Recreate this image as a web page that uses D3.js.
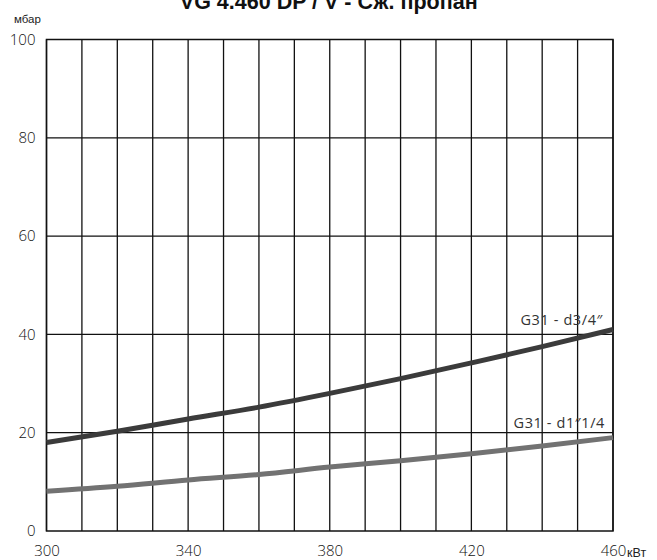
<!DOCTYPE html>
<html>
<head>
<meta charset="utf-8">
<script src="https://cdn.jsdelivr.net/npm/d3@7"></script>
<style>
  html, body { margin: 0; padding: 0; background: #fff; }
  svg { display: block; }
</style>
</head>
<body>
<svg id="chart" width="657" height="560"></svg>
<script>
// Pressure drop vs. burner output, LPG (G31), two valve sizes
const powerKW = [300, 320, 340, 360, 380, 400, 420, 440, 460];
const dropD34 = [18.0, 20.3, 22.8, 25.2, 28.0, 31.0, 34.2, 37.5, 41.0];
const dropD114 = [8.1, 9.1, 10.4, 11.5, 13.0, 14.3, 15.7, 17.3, 19.0];
const seriesNames = ["G31 - d3/4\u2033", "G31 - d1\u20331/4"];
const xTickLabels = [300, 340, 380, 420, 460];
const yTickLabels = [0, 20, 40, 60, 80, 100];
const xGrid = d3.range(300, 461, 10);
const yGrid = [20, 40, 60, 80];

const svg = d3.select("#chart");
const plotL = 46.5, plotR = 613, plotT = 39.5, plotB = 531;

const x = d3.scaleLinear().domain([300, 460]).range([plotL, plotR]);
const y = d3.scaleLinear().domain([0, 100]).range([plotB, plotT]);

// Title (sits partly above the canvas)
svg.append("text")
  .attr("x", (plotL + plotR) / 2 - 1)
  .attr("y", 9)
  .attr("text-anchor", "middle")
  .attr("font-family", "Liberation Sans, Arial, sans-serif")
  .attr("font-weight", "bold")
  .attr("font-size", 21.5)
  .attr("fill", "#111")
  .text("VG 4.460 DP / V - Сж. пропан");

// Grid
const grid = svg.append("g").attr("stroke", "#111").attr("stroke-width", 1.3).attr("fill", "none");
grid.selectAll("line.v").data(xGrid).join("line")
  .attr("class", "v")
  .attr("x1", d => x(d)).attr("x2", d => x(d))
  .attr("y1", plotT).attr("y2", plotB);
grid.selectAll("line.h").data(yGrid).join("line")
  .attr("class", "h")
  .attr("x1", plotL).attr("x2", plotR)
  .attr("y1", d => y(d)).attr("y2", d => y(d));
grid.append("rect")
  .attr("x", plotL).attr("y", plotT)
  .attr("width", plotR - plotL).attr("height", plotB - plotT)
  .attr("stroke-width", 1.5);

// Curves
const line = d3.line().x((d, i) => x(powerKW[i])).y(d => y(d)).curve(d3.curveMonotoneX);
svg.append("path").datum(dropD114)
  .attr("d", line).attr("fill", "none")
  .attr("stroke", "#727272").attr("stroke-width", 5);
svg.append("path").datum(dropD34)
  .attr("d", line).attr("fill", "none")
  .attr("stroke", "#3b3b3b").attr("stroke-width", 5);

// Curve labels
const labelFont = "'Open Sans', 'Noto Sans', sans-serif";
svg.append("text")
  .attr("x", 603).attr("y", 325)
  .attr("text-anchor", "end")
  .attr("font-family", labelFont).attr("font-size", 14.5)
  .attr("letter-spacing", 0.6)
  .attr("fill", "#333")
  .text(seriesNames[0]);
svg.append("text")
  .attr("x", 605).attr("y", 428)
  .attr("text-anchor", "end")
  .attr("font-family", labelFont).attr("font-size", 14.5)
  .attr("letter-spacing", 0.6)
  .attr("fill", "#333")
  .text(seriesNames[1]);

// Axes (labels only; the grid draws the lines)
const axisFont = "'Open Sans', 'Noto Sans', sans-serif";
const yAxis = svg.append("g")
  .attr("transform", `translate(${plotL},0)`)
  .call(d3.axisLeft(y).tickValues(yTickLabels).tickSize(0).tickPadding(11));
const xAxis = svg.append("g")
  .attr("transform", `translate(0,${plotB})`)
  .call(d3.axisBottom(x).tickValues(xTickLabels).tickSize(0).tickPadding(14));
[yAxis, xAxis].forEach(g => {
  g.select(".domain").remove();
  g.selectAll("text")
    .attr("font-family", axisFont)
    .attr("font-size", 15)
    .attr("font-weight", 300)
    .attr("fill", "#111");
});

// Units
svg.append("text")
  .attr("x", 627).attr("y", 557)
  .attr("font-family", "Liberation Sans, Arial, sans-serif")
  .attr("font-size", 12.5)
  .attr("fill", "#222")
  .text("кВт");
svg.append("text")
  .attr("x", 14).attr("y", 23)
  .attr("font-family", "Liberation Sans, Arial, sans-serif")
  .attr("font-size", 11.5)
  .attr("fill", "#222")
  .text("мбар");
</script>
</body>
</html>
